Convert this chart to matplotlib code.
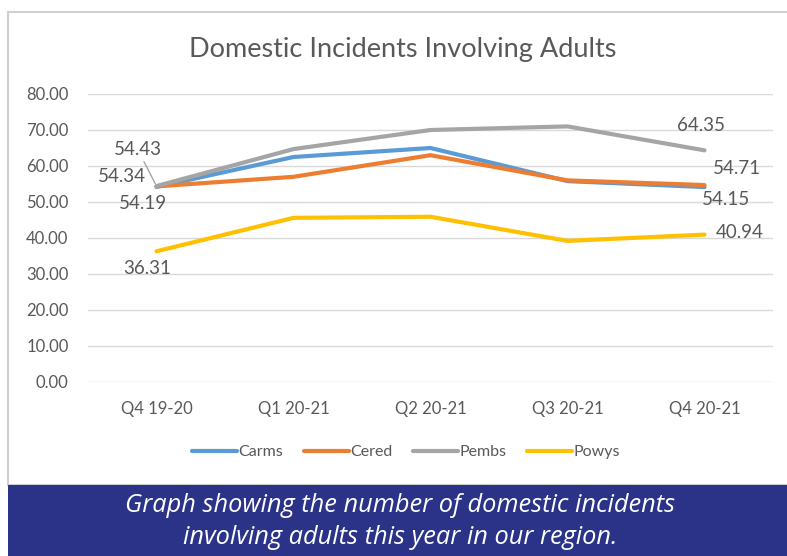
import matplotlib.pyplot as plt
import matplotlib
from matplotlib.patches import Rectangle

matplotlib.rcParams['font.family'] = ['Lato', 'DejaVu Sans']
matplotlib.rcParams['text.color'] = '#595959'
matplotlib.rcParams['xtick.color'] = '#595959'
matplotlib.rcParams['ytick.color'] = '#595959'

quarters = ['Q4 19-20', 'Q1 20-21', 'Q2 20-21', 'Q3 20-21', 'Q4 20-21']
carms = [54.19, 62.5, 65.0, 55.8, 54.15]
cered = [54.34, 57.0, 63.0, 56.0, 54.71]
pembs = [54.43, 64.7, 70.0, 71.0, 64.35]
powys = [36.31, 45.6, 45.9, 39.2, 40.94]

series = [('Carms', carms, '#5b9bd5'),
          ('Cered', cered, '#ed7d31'),
          ('Pembs', pembs, '#a5a5a5'),
          ('Powys', powys, '#ffc000')]

fig = plt.figure(figsize=(7.87, 5.56), dpi=100)

# white card with grey border, blue caption band
fig.patches.append(Rectangle((8/787, 1 - 485/556), 1, 473/556, transform=fig.transFigure,
                             facecolor='white', edgecolor='#d0d0d0', lw=1.5, zorder=-2))
fig.patches.append(Rectangle((8/787, 0), 1, 1 - 485/556, transform=fig.transFigure,
                             facecolor='#2a3388', edgecolor='none', zorder=-1))

ax = fig.add_axes([88/787, 1 - 382/556, 685/787, 288/556])
ax.set_zorder(3)
ax.set_facecolor('none')
x = list(range(len(quarters)))
for name, vals, col in series:
    ax.plot(x, vals, color=col, linewidth=3.0, label=name, solid_capstyle='round', zorder=3)

ax.set_ylim(0, 80)
ax.set_xlim(-0.5, 4.5)
ax.set_yticks(range(0, 81, 10))
ax.set_yticklabels(['{:.2f}'.format(v) for v in range(0, 81, 10)], fontsize=12)
ax.set_xticks(x)
ax.set_xticklabels(quarters, fontsize=12)
ax.tick_params(axis='y', length=0, pad=14)
ax.tick_params(axis='x', length=0, pad=14)
ax.grid(axis='y', color='#d9d9d9', linewidth=1)
for s in ax.spines.values():
    s.set_visible(False)

# data labels: (series values, index, offset in pixels)
labels = [(pembs, 0, (-19, 37)), (cered, 0, (-35, 10)), (carms, 0, (-14, -17)),
          (powys, 0, (-9, -17)), (pembs, 4, (-3, 25)), (cered, 4, (32, 17)),
          (carms, 4, (22, -12)), (powys, 4, (35, 2))]
for vals, i, off in labels:
    arrow = None
    if vals is pembs and i == 0:
        arrow = dict(arrowstyle='-', color='#a5a5a5', lw=1, shrinkA=1, shrinkB=2)
    ax.annotate('{:.2f}'.format(vals[i]), xy=(i, vals[i]), xytext=off,
                textcoords='offset pixels', ha='center', va='center',
                fontsize=13.5, color='#595959', arrowprops=arrow, zorder=4)

fig.text(403/787, 1 - 50/556, 'Domestic Incidents Involving Adults', ha='center', va='center',
         fontsize=19.5, color='#595959')

leg = fig.legend(loc='center', bbox_to_anchor=(406/787, 1 - 452/556), ncol=4, frameon=False,
                 fontsize=11.5, handlelength=2.8, handletextpad=0.1, columnspacing=1.3,
                 labelcolor='#595959')
for h in leg.get_lines():
    h.set_linewidth(3.0)

fig.text(400/787, 1 - 505/556, 'Graph showing the number of domestic incidents', ha='center',
         va='center', fontsize=18.3, color='white', style='italic', family=['Open Sans', 'DejaVu Sans'])
fig.text(400/787, 1 - 537/556, 'involving adults this year in our region.', ha='center',
         va='center', fontsize=18.3, color='white', style='italic', family=['Open Sans', 'DejaVu Sans'])

plt.savefig('out.png', dpi=100)
